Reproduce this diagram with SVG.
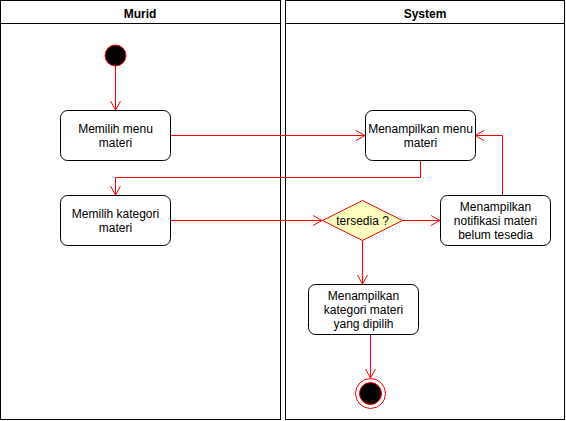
<svg xmlns="http://www.w3.org/2000/svg" width="566" height="421" viewBox="0 0 566 421">
<style>
.lane{fill:none;stroke:#000;stroke-width:1}
.hdr{font-family:"Liberation Sans",Arial,sans-serif;font-size:12px;font-weight:bold;fill:#000;text-anchor:middle}
.box{fill:#fff;stroke:#000;stroke-width:1}
.t{font-family:"Liberation Sans",Arial,sans-serif;font-size:12px;fill:#000;text-anchor:middle}
.c{fill:none;stroke:#ff0000;stroke-width:1}
</style>
<defs>
<marker id="open" markerWidth="12" markerHeight="12" refX="10" refY="6" orient="auto" markerUnits="userSpaceOnUse">
<path d="M1,1 L10,6 L1,11" fill="none" stroke="#ff0000" stroke-width="1"/>
</marker>
</defs>
<g id="lane-murid">
<rect class="lane" x="0.5" y="0.5" width="280" height="419"/>
<line class="lane" x1="0.5" y1="23.5" x2="280.5" y2="23.5"/>
<text class="hdr" x="140" y="18">Murid</text>
</g>
<g id="lane-system">
<rect class="lane" x="285.5" y="0.5" width="279" height="419"/>
<line class="lane" x1="285.5" y1="23.5" x2="564.5" y2="23.5"/>
<text class="hdr" x="425" y="18">System</text>
</g>
<g id="connectors">
<path class="c" d="M115.5,66 L115.5,110" marker-end="url(#open)"/>
<path class="c" d="M170,135.5 L365,135.5" marker-end="url(#open)"/>
<path class="c" d="M420.5,160 L420.5,177.5 L115.5,177.5 L115.5,195" marker-end="url(#open)"/>
<path class="c" d="M170,220.5 L322,220.5" marker-end="url(#open)"/>
<path class="c" d="M402,220.5 L440,220.5" marker-end="url(#open)"/>
<path class="c" d="M502.5,195 L502.5,135.5 L475,135.5" marker-end="url(#open)"/>
<path class="c" d="M362.5,240 L362.5,284" marker-end="url(#open)"/>
<path class="c" d="M370.5,334 L370.5,378" marker-end="url(#open)"/>
</g>
<g id="start">
<circle cx="115.5" cy="55.5" r="10.5" fill="#000" stroke="#ff0000" stroke-width="1"/>
</g>
<g id="memilih-menu">
<rect class="box" x="60.5" y="110.5" width="110" height="50" rx="7" ry="7"/>
<text class="t" x="115.5" y="133">Memilih menu</text>
<text class="t" x="115.5" y="147">materi</text>
</g>
<g id="menampilkan-menu">
<rect class="box" x="365.5" y="110.5" width="110" height="50" rx="7" ry="7"/>
<text class="t" x="420.5" y="133">Menampilkan menu</text>
<text class="t" x="420.5" y="147">materi</text>
</g>
<g id="memilih-kategori">
<rect class="box" x="60.5" y="195.5" width="110" height="50" rx="7" ry="7"/>
<text class="t" x="115.5" y="218">Memilih kategori</text>
<text class="t" x="115.5" y="232">materi</text>
</g>
<g id="tersedia">
<polygon points="362.5,200.5 402.5,220.5 362.5,240.5 322.5,220.5" fill="#ffffc0" stroke="#ff0000" stroke-width="1"/>
<text class="t" x="362.5" y="224.5">tersedia ?</text>
</g>
<g id="notifikasi">
<rect class="box" x="440.5" y="195.5" width="110" height="50" rx="7" ry="7"/>
<text class="t" x="495.5" y="211">Menampilkan</text>
<text class="t" x="495.5" y="225">notifikasi materi</text>
<text class="t" x="495.5" y="239">belum tesedia</text>
</g>
<g id="menampilkan-kategori">
<rect class="box" x="308.5" y="284.5" width="110" height="50" rx="7" ry="7"/>
<text class="t" x="363.5" y="300">Menampilkan</text>
<text class="t" x="363.5" y="314">kategori materi</text>
<text class="t" x="363.5" y="328">yang dipilih</text>
</g>
<g id="end">
<circle cx="370.5" cy="393.5" r="15" fill="none" stroke="#ff0000" stroke-width="1"/>
<circle cx="370.5" cy="393.5" r="11" fill="#000" stroke="#ff0000" stroke-width="1"/>
</g>
</svg>
